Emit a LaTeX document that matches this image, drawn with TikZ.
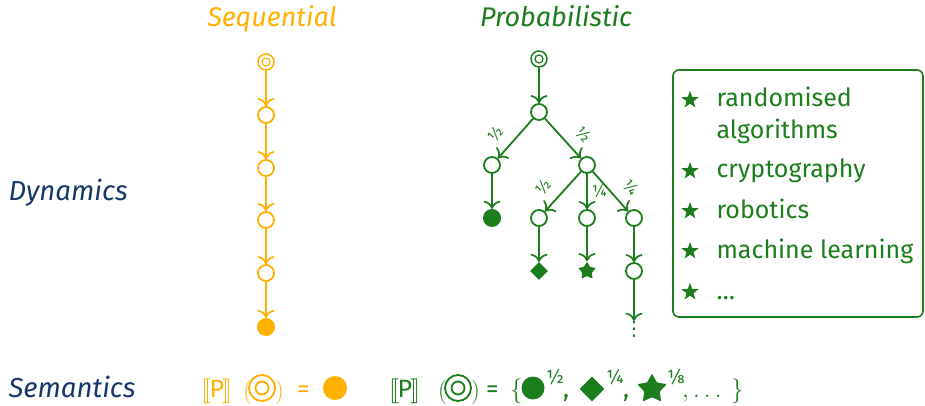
\documentclass[tikz,border=0pt]{standalone}
\usepackage{fontspec}
\setmainfont{Fira Sans}
\newfontfamily\djvfont{DejaVu Sans}
\usepackage{stmaryrd}
\usetikzlibrary{arrows.meta,shapes.geometric}
\definecolor{seqc}{RGB}{255,176,0}
\definecolor{probc}{RGB}{28,125,28}
\definecolor{labc}{RGB}{23,55,105}
\begin{document}
\begin{tikzpicture}[x=1pt,y=-1pt,
  every node/.style={font=\fontsize{25}{30}\selectfont},
  st/.style={circle,draw,line width=1.8pt,minimum size=16pt,inner sep=0pt,fill=white},
  init/.style={circle,draw,line width=1.5pt,minimum size=16pt,inner sep=0pt,fill=white},
  fin/.style={circle,fill,minimum size=18pt,inner sep=0pt},
  dia/.style={diamond,fill,minimum size=18pt,inner sep=0pt},
  fstar/.style={star,star points=5,star point ratio=1.9,fill,minimum size=19pt,inner sep=0pt,rounded corners=1pt},
  bstar/.style={star,star points=5,star point ratio=2.4,fill=probc,minimum size=18pt,inner sep=0pt},
  conn/.style={line width=1.8pt,-{Computer Modern Rightarrow[length=8pt,width=17pt,line width=1.7pt]}},
  plab/.style={font=\fontsize{16}{17}\selectfont,inner sep=2pt},
  ttl/.style={font=\fontsize{27}{32}\selectfont\itshape,anchor=base},
  side/.style={font=\fontsize{27.5}{32}\selectfont\itshape,anchor=base west,text=labc},
  item/.style={anchor=base west,text=probc},
  fpart/.style={anchor=base west,inner sep=0pt},
  brk/.style={anchor=base west,inner sep=0pt,font=\fontsize{25}{30}\selectfont},
  par/.style={anchor=base west,inner sep=0pt,font=\fontsize{29}{32}\selectfont},
  sup/.style={font=\fontsize{19}{20}\selectfont,anchor=west,inner sep=0pt}
]
\useasboundingbox (0,0) rectangle (925,406);

% titles
\node[ttl,text=seqc] (tseq) at (272,27) {Sequential};
\node[ttl,text=probc] (tprob) at (556,27) {Probabilistic};
\node[side] (dyn) at (5,200) {Dynamics};
\node[side] (sem) at (5,397) {Semantics};

% sequential chain
\begin{scope}[seqc]
\node[init] (s0) at (266,62) {};
\draw[line width=1.2pt] (s0.center) circle (4pt);
\node[st] (s1) at (266,115) {};
\node[st] (s2) at (266,168) {};
\node[st] (s3) at (266,220) {};
\node[st] (s4) at (266,273) {};
\node[fin] (s5) at (266,327) {};
\draw[conn] (s0) -- (s1);
\draw[conn] (s1) -- (s2);
\draw[conn] (s2) -- (s3);
\draw[conn] (s3) -- (s4);
\draw[conn] (s4) -- (s5);
\end{scope}

% probabilistic tree
\begin{scope}[probc]
\node[init] (p0) at (539,59) {};
\draw[line width=1.2pt] (p0.center) circle (4pt);
\node[st] (p1) at (539,112) {};
\node[st] (p2) at (492,165) {};
\node[st] (p3) at (587,165) {};
\node[fin] (p4) at (492,218) {};
\node[st] (p5) at (539,218) {};
\node[st] (p6) at (587,218) {};
\node[st] (p7) at (634,218) {};
\node[dia] (p8) at (539,271) {};
\node[fstar] (p9) at (587,271) {};
\node[st] (p10) at (634,271) {};
\node[inner sep=0pt,font=\djvfont\fontsize{20}{22}\selectfont] (pd) at (634,329) {⋮};
\draw[conn] (p0) -- (p1);
\draw[conn] (p1) -- node[plab,sloped,above=8pt,pos=0.7] {½} (p2);
\draw[conn] (p1) -- node[plab,sloped,above=8pt,pos=0.7] {½} (p3);
\draw[conn] (p2) -- (p4);
\draw[conn] (p3) -- node[plab,sloped,above=8pt,pos=0.7] {½} (p5);
\draw[conn] (p3) -- node[plab,right=2pt,pos=0.5] {¼} (p6);
\draw[conn] (p3) -- node[plab,sloped,above=8pt,pos=0.7] {¼} (p7);
\draw[conn] (p5) -- (p8);
\draw[conn] (p6) -- (p9);
\draw[conn] (p7) -- (p10);
\draw[conn] (p10) -- (pd.north);
\end{scope}

% applications box
\draw[probc,line width=1.6pt,rounded corners=6pt] (673,70) rectangle (923,317);
\node[bstar] (b1) at (690,100) {};
\node[item] (i1) at (713,107) {randomised};
\node[item] (i1b) at (713,139) {algorithms};
\node[bstar] (b2) at (690,171) {};
\node[item] (i2) at (713,178) {cryptography};
\node[bstar] (b3) at (690,211) {};
\node[item] (i3) at (713,218) {robotics};
\node[bstar] (b4) at (690,251) {};
\node[item] (i4) at (713,258) {machine learning};
\node[bstar] (b5) at (690,292) {};
\node[item] (i5) at (713,299) {…};

% sequential semantics
\begin{scope}[seqc]
\node[brk,text=seqc] (y1) at (201,397) {$\llbracket$\kern-1.5pt P\kern-1.5pt$\rrbracket$};
\node[par,text=seqc] (y2) at (243,398) {$($};
\draw[line width=1.8pt] (262,388) circle (13pt);
\draw[line width=1.8pt] (262,388) circle (6.5pt);
\node[par,text=seqc] (y3) at (275,398) {$)$};
\node[fpart,text=seqc] (y4) at (297,397) {=};
\node[fin,minimum size=24pt] (y5) at (335,388) {};
\end{scope}

% probabilistic semantics
\begin{scope}[probc]
\node[brk,text=probc] (g1) at (389,397) {$\llbracket$\kern-1.5pt P\kern-1.5pt$\rrbracket$};
\node[par,text=probc] (g2) at (438,398) {$($};
\draw[line width=1.8pt] (458,388) circle (13pt);
\draw[line width=1.8pt] (458,388) circle (6.5pt);
\node[par,text=probc] (g3) at (471,398) {$)$};
\node[fpart,text=probc] (g4) at (486,397) {=};
\node[fpart,text=probc] (g5) at (510,397) {$\{$};
\node[fin,minimum size=23pt] (g6) at (533,388) {};
\node[sup,text=probc] (g7) at (546,377) {½};
\node[fpart,text=probc] (g8) at (563,397) {,};
\node[dia,minimum size=25pt] (g9) at (592,389) {};
\node[sup,text=probc] (g10) at (606,377) {¼};
\node[fpart,text=probc] (g11) at (623,397) {,};
\node[fstar,minimum size=31pt] (g12) at (652,389) {};
\node[sup,text=probc] (g13) at (667,377) {⅛};
\node[fpart,text=probc] (g14) at (682,397) {$,\ldots$};
\node[fpart,text=probc] (g15) at (731,397) {$\}$};
\end{scope}
\end{tikzpicture}
\end{document}
